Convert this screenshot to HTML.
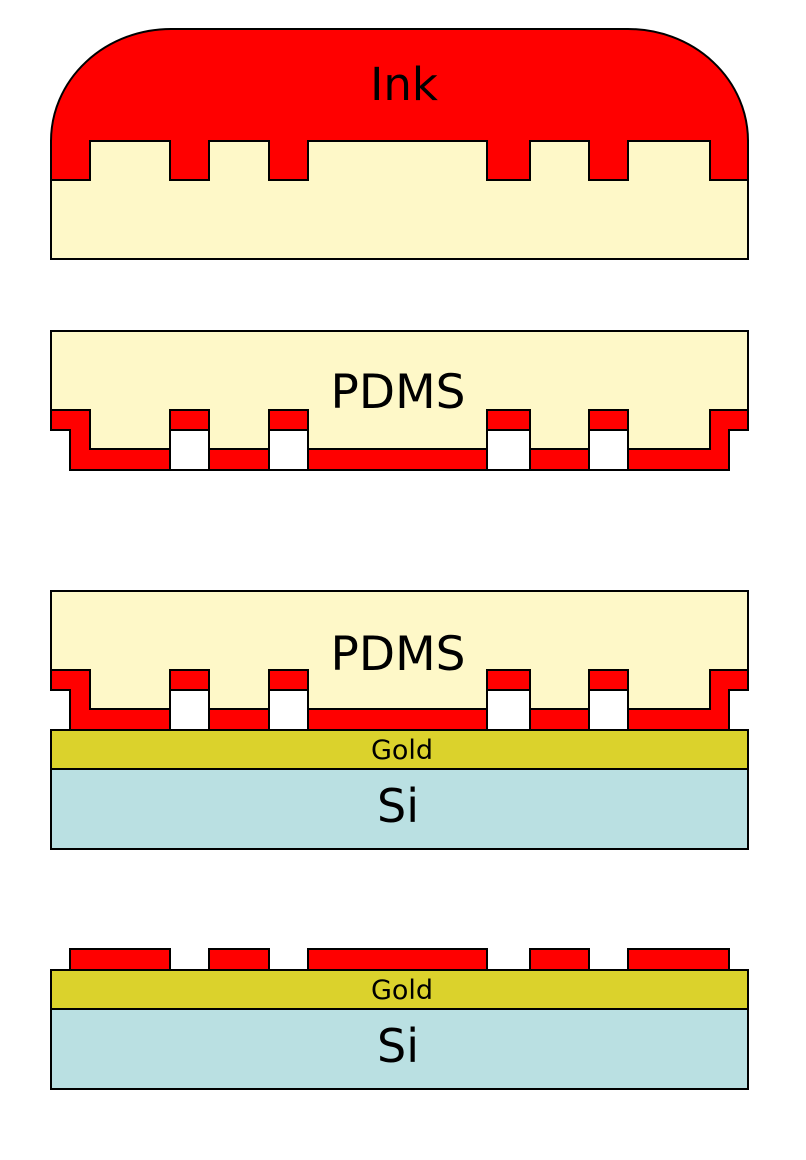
<!DOCTYPE html>
<html><head><meta charset="utf-8"><style>body{margin:0;background:#fff}svg{display:block}</style></head><body>
<svg width="806" height="1160" xmlns="http://www.w3.org/2000/svg" font-family="DejaVu Sans, sans-serif" stroke="#000" stroke-width="2">
<rect x="51" y="141" width="697" height="118" fill="#fef8c8"/>
<path d="M51,180 L51,141 A120,112 0 0 1 171,29 L628,29 A120,112 0 0 1 748,141 L748,180 L710,180 L710,141 L628,141 L628,180 L589,180 L589,141 L530,141 L530,180 L487,180 L487,141 L308,141 L308,180 L269,180 L269,141 L209,141 L209,180 L170,180 L170,141 L90,141 L90,180 Z" fill="#ff0000"/>
<text x="404" y="100" font-size="45" text-anchor="middle" stroke="none">Ink</text>

<g>
<path d="M51,331 L748,331 L748,410 L710,410 L710,449 L628,449 L628,410 L589,410 L589,449 L530,449 L530,410 L487,410 L487,449 L308,449 L308,410 L269,410 L269,449 L209,449 L209,410 L170,410 L170,449 L90,449 L90,410 L51,410 Z" fill="#fef8c8"/>
<path d="M51,410 L90,410 L90,449 L170,449 L170,470 L70,470 L70,430 L51,430 Z" fill="#ff0000"/>
<path d="M748,410 L710,410 L710,449 L628,449 L628,470 L729,470 L729,430 L748,430 Z" fill="#ff0000"/>
<rect x="170" y="410" width="39" height="20" fill="#ff0000"/>
<rect x="269" y="410" width="39" height="20" fill="#ff0000"/>
<rect x="487" y="410" width="43" height="20" fill="#ff0000"/>
<rect x="589" y="410" width="39" height="20" fill="#ff0000"/>
<rect x="209" y="449" width="60" height="21" fill="#ff0000"/>
<rect x="308" y="449" width="179" height="21" fill="#ff0000"/>
<rect x="530" y="449" width="59" height="21" fill="#ff0000"/>
<rect x="170" y="430" width="39" height="40" fill="#fff"/>
<rect x="269" y="430" width="39" height="40" fill="#fff"/>
<rect x="487" y="430" width="43" height="40" fill="#fff"/>
<rect x="589" y="430" width="39" height="40" fill="#fff"/>
<text x="398" y="408" font-size="47" text-anchor="middle" stroke="none">PDMS</text>
</g>

<g transform="translate(0,260)">
<path d="M51,331 L748,331 L748,410 L710,410 L710,449 L628,449 L628,410 L589,410 L589,449 L530,449 L530,410 L487,410 L487,449 L308,449 L308,410 L269,410 L269,449 L209,449 L209,410 L170,410 L170,449 L90,449 L90,410 L51,410 Z" fill="#fef8c8"/>
<path d="M51,410 L90,410 L90,449 L170,449 L170,470 L70,470 L70,430 L51,430 Z" fill="#ff0000"/>
<path d="M748,410 L710,410 L710,449 L628,449 L628,470 L729,470 L729,430 L748,430 Z" fill="#ff0000"/>
<rect x="170" y="410" width="39" height="20" fill="#ff0000"/>
<rect x="269" y="410" width="39" height="20" fill="#ff0000"/>
<rect x="487" y="410" width="43" height="20" fill="#ff0000"/>
<rect x="589" y="410" width="39" height="20" fill="#ff0000"/>
<rect x="209" y="449" width="60" height="21" fill="#ff0000"/>
<rect x="308" y="449" width="179" height="21" fill="#ff0000"/>
<rect x="530" y="449" width="59" height="21" fill="#ff0000"/>
<rect x="170" y="430" width="39" height="40" fill="#fff"/>
<rect x="269" y="430" width="39" height="40" fill="#fff"/>
<rect x="487" y="430" width="43" height="40" fill="#fff"/>
<rect x="589" y="430" width="39" height="40" fill="#fff"/>
<text x="398" y="410" font-size="47" text-anchor="middle" stroke="none">PDMS</text>
</g>
<rect x="51" y="730" width="697" height="39" fill="#dbd22c"/>
<rect x="51" y="769" width="697" height="80" fill="#bae0e2"/>
<text x="402" y="759" font-size="27" text-anchor="middle" stroke="none">Gold</text>
<text x="398" y="822" font-size="46" text-anchor="middle" stroke="none">Si</text>

<rect x="70" y="949" width="100" height="21" fill="#ff0000"/>
<rect x="209" y="949" width="60" height="21" fill="#ff0000"/>
<rect x="308" y="949" width="179" height="21" fill="#ff0000"/>
<rect x="530" y="949" width="59" height="21" fill="#ff0000"/>
<rect x="628" y="949" width="101" height="21" fill="#ff0000"/>
<rect x="51" y="970" width="697" height="39" fill="#dbd22c"/>
<rect x="51" y="1009" width="697" height="80" fill="#bae0e2"/>
<text x="402" y="999" font-size="27" text-anchor="middle" stroke="none">Gold</text>
<text x="398" y="1062" font-size="46" text-anchor="middle" stroke="none">Si</text>
</svg>
</body></html>
